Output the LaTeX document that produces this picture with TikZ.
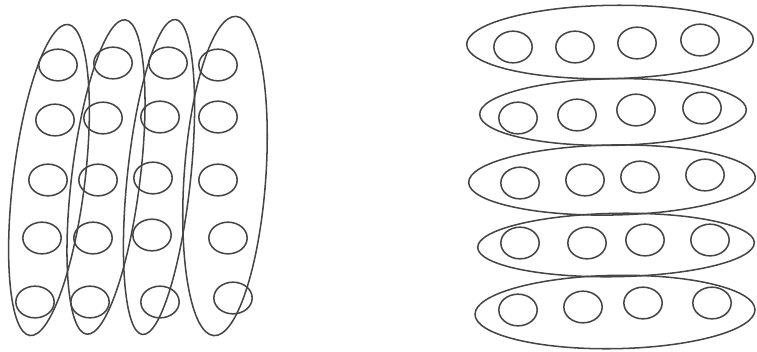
\documentclass[tikz,border=0pt]{standalone}
\usetikzlibrary{shapes.geometric}
\definecolor{pencil}{HTML}{454545}
\tikzset{
  dot/.style={ellipse, draw=pencil, line width=1.3pt, minimum width=1.15cm, minimum height=0.95cm, inner sep=0pt},
  vloop/.style={ellipse, draw=pencil, line width=1.3pt, inner sep=0pt},
  hloop/.style={ellipse, draw=pencil, line width=1.3pt, inner sep=0pt},
}
\begin{document}
\begin{tikzpicture}[x=0.03cm, y=-0.03cm]
\useasboundingbox (0,0) rectangle (757,351);
% left: columns of circles
\node[dot] (a11) at (58,65) {};
\node[dot] (a12) at (113,63) {};
\node[dot] (a13) at (168,63) {};
\node[dot] (a14) at (218,65) {};
\node[dot] (a21) at (55,120) {};
\node[dot] (a22) at (103,118) {};
\node[dot] (a23) at (160,117) {};
\node[dot] (a24) at (218,117) {};
\node[dot] (a31) at (48,180) {};
\node[dot] (a32) at (98,180) {};
\node[dot] (a33) at (153,178) {};
\node[dot] (a34) at (218,180) {};
\node[dot] (a41) at (42,238) {};
\node[dot] (a42) at (93,238) {};
\node[dot] (a43) at (152,235) {};
\node[dot] (a44) at (228,238) {};
\node[dot] (a51) at (35,302) {};
\node[dot] (a52) at (90,302) {};
\node[dot] (a53) at (160,302) {};
\node[dot] (a54) at (233,298) {};
% left loops
\node[vloop, minimum width=2.15cm, minimum height=9.4cm, rotate=-7] (L1) at (49,180) {};
\node[vloop, minimum width=2.05cm, minimum height=9.5cm, rotate=-7] (L2) at (106,177) {};
\node[vloop, minimum width=1.9cm, minimum height=9.5cm, rotate=-6] (L3) at (159,177) {};
\node[vloop, minimum width=2.45cm, minimum height=9.6cm, rotate=-4] (L4) at (225,176) {};
% right: rows of circles
\node[dot] (b11) at (513,47) {};
\node[dot] (b12) at (575,47) {};
\node[dot] (b13) at (637,43) {};
\node[dot] (b14) at (700,40) {};
\node[dot] (b21) at (518,118) {};
\node[dot] (b22) at (577,115) {};
\node[dot] (b23) at (636,110) {};
\node[dot] (b24) at (702,108) {};
\node[dot] (b31) at (520,183) {};
\node[dot] (b32) at (585,180) {};
\node[dot] (b33) at (640,177) {};
\node[dot] (b34) at (705,175) {};
\node[dot] (b41) at (520,243) {};
\node[dot] (b42) at (587,243) {};
\node[dot] (b43) at (645,240) {};
\node[dot] (b44) at (710,240) {};
\node[dot] (b51) at (518,310) {};
\node[dot] (b52) at (583,307) {};
\node[dot] (b53) at (643,303) {};
\node[dot] (b54) at (712,303) {};
% right loops
\node[hloop, minimum width=8.6cm, minimum height=2.2cm, rotate=1] (R1) at (610,42) {};
\node[hloop, minimum width=8.0cm, minimum height=2.0cm, rotate=1] (R2) at (613,112) {};
\node[hloop, minimum width=8.6cm, minimum height=2.1cm, rotate=1] (R3) at (612,180) {};
\node[hloop, minimum width=8.3cm, minimum height=1.9cm, rotate=1] (R4) at (616,245) {};
\node[hloop, minimum width=8.4cm, minimum height=2.2cm, rotate=1] (R5) at (615,312) {};
\end{tikzpicture}
\end{document}
